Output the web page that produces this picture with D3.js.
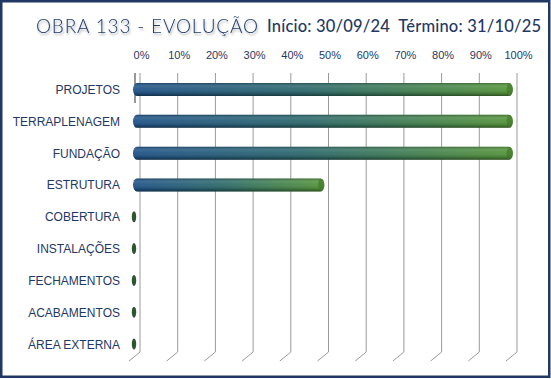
<!DOCTYPE html>
<html><head><meta charset="utf-8">
<script src="https://cdn.jsdelivr.net/npm/d3@7"></script>
<style>
html,body{margin:0;padding:0;background:#fff;}
svg{display:block;}
</style></head>
<body>
<script>
const categories = ["PROJETOS","TERRAPLENAGEM","FUNDAÇÃO","ESTRUTURA","COBERTURA","INSTALAÇÕES","FECHAMENTOS","ACABAMENTOS","ÁREA EXTERNA"];
const progress = [1.00, 1.00, 1.00, 0.50, 0, 0, 0, 0, 0];
const tickValues = [0,0.1,0.2,0.3,0.4,0.5,0.6,0.7,0.8,0.9,1.0];
const titleText = "OBRA 133 - EVOLUÇÃO";
const datesText = "Início: 30/09/24  Término: 31/10/25";

const W = 551, H = 379;
const svg = d3.select("body").append("svg").attr("width", W).attr("height", H);
const defs = svg.append("defs");

const g1 = defs.append("linearGradient").attr("id","barGrad").attr("x1","0").attr("x2","1").attr("y1","0").attr("y2","0");
g1.append("stop").attr("offset","0%").attr("stop-color","#22558a");
g1.append("stop").attr("offset","45%").attr("stop-color","#2f6a6e");
g1.append("stop").attr("offset","100%").attr("stop-color","#58963c");
const g2 = defs.append("linearGradient").attr("id","shade").attr("x1","0").attr("x2","0").attr("y1","0").attr("y2","1");
g2.append("stop").attr("offset","0%").attr("stop-color","#000").attr("stop-opacity",0.25);
g2.append("stop").attr("offset","25%").attr("stop-color","#fff").attr("stop-opacity",0.12);
g2.append("stop").attr("offset","45%").attr("stop-color","#fff").attr("stop-opacity",0.05);
g2.append("stop").attr("offset","80%").attr("stop-color","#000").attr("stop-opacity",0.15);
g2.append("stop").attr("offset","100%").attr("stop-color","#000").attr("stop-opacity",0.45);

const shadow = defs.append("filter").attr("id","tshadow").attr("x","-10%").attr("y","-30%").attr("width","120%").attr("height","180%");
shadow.append("feGaussianBlur").attr("in","SourceAlpha").attr("stdDeviation",1.2).attr("result","b");
shadow.append("feOffset").attr("in","b").attr("dx",1).attr("dy",2).attr("result","o");
shadow.append("feComponentTransfer").attr("in","o").attr("result","o2")
  .append("feFuncA").attr("type","linear").attr("slope",0.35);
const m = shadow.append("feMerge");
m.append("feMergeNode").attr("in","o2");
m.append("feMergeNode").attr("in","SourceGraphic");

svg.append("rect").attr("x",1.25).attr("y",1.25).attr("width",W-3).attr("height",H-3.5)
  .attr("fill","#fff").attr("stroke","#1f3864").attr("stroke-width",2.5);

const x = d3.scaleLinear().domain([0,1]).range([140,517]);
const y = d3.scalePoint().domain(categories).range([89.5,344]);

const gridTop = 73, gridBot = 352;
const grid = svg.append("g");
grid.selectAll("path").data(tickValues).join("path")
  .attr("d", d => `M${x(d)},${gridTop}V${gridBot}l-11,9`)
  .attr("fill","none").attr("stroke","#9a9a9a").attr("stroke-width",1);

const axis = d3.axisTop(x).tickValues(tickValues).tickSize(0).tickPadding(0)
  .tickFormat(d3.format(".0%"));
const ag = svg.append("g").attr("transform","translate(1,59)").call(axis);
ag.select(".domain").remove();
ag.selectAll("text").attr("font-family","Liberation Sans, Arial, sans-serif").attr("font-size",11).attr("fill","#1f3864");

svg.append("path").attr("d",`M${x(0)-5},${gridTop}V${103}`).attr("stroke","#555").attr("stroke-width",1.2);

svg.append("g").selectAll("text").data(categories).join("text")
  .attr("x",120).attr("y",d=>y(d)+4.5).attr("text-anchor","end")
  .attr("font-family","Liberation Sans, Arial, sans-serif").attr("font-size",12)
  .attr("fill","#1f3864").text(d=>d);

const bh = 13;
const bars = svg.append("g");
categories.forEach((c,i) => {
  const v = progress[i];
  const cy = y(c);
  if (v > 0) {
    const x0 = x(0) - 7, x1 = x(v) - 4;
    bars.append("rect").attr("x",x0).attr("y",cy-bh/2).attr("width",x1-x0).attr("height",bh)
      .attr("rx",4).attr("ry",bh/2).attr("fill","url(#barGrad)");
    bars.append("rect").attr("x",x0).attr("y",cy-bh/2).attr("width",x1-x0).attr("height",bh)
      .attr("rx",4).attr("ry",bh/2).attr("fill","url(#shade)");
    bars.append("ellipse").attr("cx",x1-3.5).attr("cy",cy).attr("rx",3).attr("ry",bh/2-0.5)
      .attr("fill","#3f7a2a").attr("opacity",0.7);
  } else {
    bars.append("ellipse").attr("cx",x(0)-6).attr("cy",cy).attr("rx",2.2).attr("ry",5.5)
      .attr("fill","#2c5530");
  }
});

svg.append("text").attr("x",36).attr("y",33).attr("font-family","Lato, 'Open Sans', sans-serif")
  .attr("font-size",19).attr("font-weight",300).attr("fill","#22406a").attr("filter","url(#tshadow)")
  .attr("textLength",222).attr("lengthAdjust","spacing").text(titleText);

svg.append("text").attr("x",267).attr("y",32).attr("font-family","Lato, 'Open Sans', sans-serif")
  .attr("font-size",16.5).attr("font-weight",500).attr("fill","#1f3864")
  .attr("textLength",274).attr("lengthAdjust","spacing").style("white-space","pre").text(datesText);
</script>
</body></html>
